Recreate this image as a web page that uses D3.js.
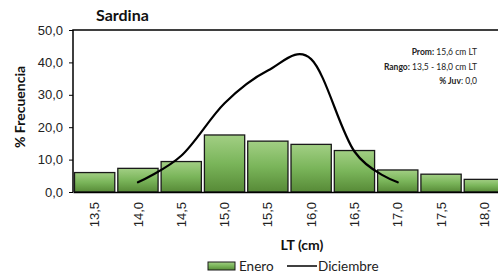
<!DOCTYPE html>
<html>
<head>
<meta charset="utf-8">
<script src="https://cdn.jsdelivr.net/npm/d3@7"></script>
<style>
  body { margin: 0; background: #fff; }
  svg { display: block; font-family: Lato, "Open Sans", sans-serif; }
</style>
</head>
<body>
<script>
// datos de frecuencia por talla
var tallas = ["13,5", "14,0", "14,5", "15,0", "15,5", "16,0", "16,5", "17,0", "17,5", "18,0"];
var enero = [6.0, 7.3, 9.4, 17.6, 15.7, 14.7, 12.8, 6.8, 5.5, 3.9];
var diciembreTallas = ["14,0", "14,5", "15,0", "15,5", "16,0", "16,5", "17,0"];
var diciembre = [3.0, 11.2, 27.4, 37.5, 41.0, 12.5, 3.0];
var yTicks = [0, 10, 20, 30, 40, 50];

var w = 498, h = 276;
var mLeft = 73, mTop = 30, mRight = 506, mBottom = 192;

var svg = d3.select("body").append("svg")
  .attr("width", w)
  .attr("height", h);

var defs = svg.append("defs");
var grad = defs.append("linearGradient")
  .attr("id", "verde")
  .attr("x1", 0).attr("y1", 0).attr("x2", 0).attr("y2", 1);
grad.append("stop").attr("offset", "0%").attr("stop-color", "#a2cf84");
grad.append("stop").attr("offset", "50%").attr("stop-color", "#7ab55a");
grad.append("stop").attr("offset", "100%").attr("stop-color", "#578a37");

var x = d3.scaleBand()
  .domain(tallas)
  .range([mLeft, mRight])
  .paddingInner(0.07)
  .paddingOuter(0.035);

var y = d3.scaleLinear()
  .domain([0, 50])
  .range([mBottom, mTop]);

// título
svg.append("text")
  .attr("x", 96)
  .attr("y", 21)
  .style("font-size", "16px")
  .style("font-weight", "bold")
  .attr("fill", "#111")
  .text("Sardina");

// barras
svg.selectAll(".bar")
  .data(enero)
  .enter()
  .append("rect")
  .attr("class", "bar")
  .attr("x", function(d, i){ return x(tallas[i]); })
  .attr("y", function(d){ return y(d); })
  .attr("width", x.bandwidth())
  .attr("height", function(d){ return y(0) - y(d); })
  .attr("fill", "url(#verde)")
  .attr("stroke", "#1a1a1a")
  .attr("stroke-width", 1.3);

// línea diciembre
var line = d3.line()
  .x(function(d, i){ return x(diciembreTallas[i]) + x.bandwidth() / 2; })
  .y(function(d){ return y(d); })
  .curve(d3.curveCardinal.tension(0));

svg.append("path")
  .datum(diciembre)
  .attr("d", line)
  .attr("fill", "none")
  .attr("stroke", "#000")
  .attr("stroke-width", 2.2)
  .attr("stroke-linecap", "round");

// marco
svg.append("path")
  .attr("d", "M" + mLeft + "," + mBottom + "V" + mTop + "H" + mRight)
  .attr("fill", "none")
  .attr("stroke", "#000")
  .attr("stroke-width", 1.5);

// eje y
var yAxis = d3.axisLeft(y)
  .tickValues(yTicks)
  .tickSize(4)
  .tickFormat(function(d){ return d3.format(".1f")(d).replace(".", ","); });

var gy = svg.append("g")
  .attr("transform", "translate(" + mLeft + ",0)")
  .call(yAxis);
gy.select(".domain").remove();
gy.selectAll("line").attr("stroke", "#000");
gy.selectAll("text")
  .attr("fill", "#222")
  .style("font-size", "13px")
  .attr("x", -10);

// eje x
var xAxis = d3.axisBottom(x).tickSize(0);
var gx = svg.append("g")
  .attr("transform", "translate(0," + mBottom + ")")
  .call(xAxis);
gx.select(".domain")
  .attr("stroke", "#000")
  .attr("stroke-width", 1.5);
gx.selectAll("text")
  .attr("fill", "#222")
  .style("font-size", "13px")
  .attr("transform", "rotate(-90)")
  .attr("text-anchor", "end")
  .attr("x", -10)
  .attr("y", 0)
  .attr("dy", "0.35em");

// títulos de ejes
svg.append("text")
  .attr("transform", "translate(25,107) rotate(-90)")
  .attr("text-anchor", "middle")
  .style("font-size", "14px")
  .style("font-weight", "bold")
  .attr("fill", "#111")
  .text("% Frecuencia");

svg.append("text")
  .attr("x", 302)
  .attr("y", 250)
  .attr("text-anchor", "middle")
  .style("font-size", "14px")
  .style("font-weight", "bold")
  .attr("fill", "#111")
  .text("LT (cm)");

// anotaciones
var notas = [
  { b: "Prom:", t: " 15,6 cm LT" },
  { b: "Rango:", t: " 13,5 - 18,0 cm LT" },
  { b: "% Juv", t: ": 0,0" }
];
svg.selectAll(".nota")
  .data(notas)
  .enter()
  .append("text")
  .attr("class", "nota")
  .attr("x", 477)
  .attr("y", function(d, i){ return 55 + i * 14.5; })
  .attr("text-anchor", "end")
  .style("font-size", "8.5px")
  .attr("fill", "#222")
  .each(function(d){
    var t = d3.select(this);
    t.append("tspan").style("font-weight", "bold").text(d.b);
    t.append("tspan").text(d.t);
  });

// leyenda
var leg = svg.append("g");
leg.append("rect")
  .attr("x", 208).attr("y", 262)
  .attr("width", 27).attr("height", 8)
  .attr("fill", "url(#verde)")
  .attr("stroke", "#1a1a1a")
  .attr("stroke-width", 1);
leg.append("text")
  .attr("x", 239).attr("y", 271)
  .style("font-size", "13.5px")
  .attr("fill", "#222")
  .text("Enero");
leg.append("line")
  .attr("x1", 287).attr("x2", 317)
  .attr("y1", 266).attr("y2", 266)
  .attr("stroke", "#000")
  .attr("stroke-width", 1.5);
leg.append("text")
  .attr("x", 318).attr("y", 271)
  .style("font-size", "13.5px")
  .attr("fill", "#222")
  .text("Diciembre");
</script>
</body>
</html>
